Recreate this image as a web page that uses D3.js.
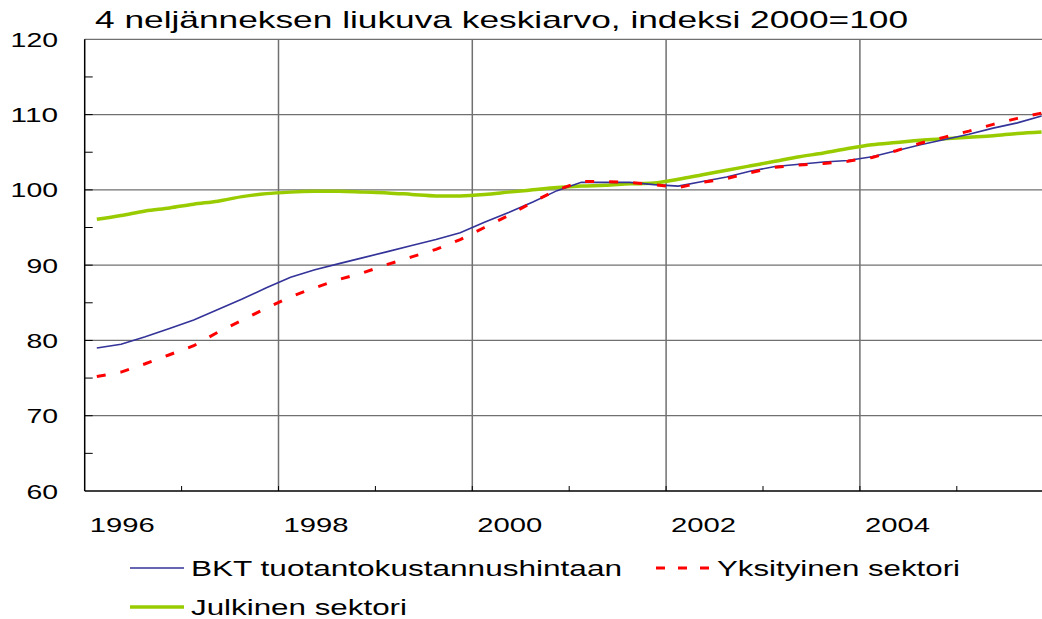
<!DOCTYPE html>
<html>
<head>
<meta charset="utf-8">
<script src="https://cdn.jsdelivr.net/npm/d3@7"></script>
<style>
  body { margin: 0; background: #fff; }
  text { font-family: Arial, "Liberation Sans", sans-serif; fill: #000; }
</style>
</head>
<body>
<svg id="chart"></svg>
<script>
// quarterly data, 4-quarter moving average, index 2000=100
var startYear = 1996;
var yearTicks = [1996, 1998, 2000, 2002, 2004];
var yTicks = [60, 70, 80, 90, 100, 110, 120];

var bkt = [79.0, 79.5, 80.5, 81.6, 82.7, 84.1, 85.5, 87.0,
           88.4, 89.4, 90.2, 91.0, 91.8, 92.6, 93.4, 94.3,
           95.7, 97.0, 98.4, 99.9, 101.0, 101.0, 101.0, 100.7,
           100.5, 101.1, 101.7, 102.5, 103.1, 103.4, 103.7, 103.9,
           104.4, 105.2, 106.0, 106.7, 107.4, 108.2, 108.9, 109.8];

var yksityinen = [75.2, 75.8, 76.9, 78.1, 79.3, 81.1, 82.7, 84.3,
                  85.8, 87.0, 88.1, 89.0, 90.1, 91.1, 92.1, 93.4,
                  95.0, 96.6, 98.4, 100.0, 101.1, 101.1, 101.0, 100.7,
                  100.3, 101.0, 101.5, 102.3, 103.0, 103.3, 103.5, 103.8,
                  104.3, 105.2, 106.2, 107.0, 107.8, 108.7, 109.5, 110.2];

var julkinen = [96.1, 96.6, 97.2, 97.6, 98.1, 98.5, 99.1, 99.5,
                99.7, 99.8, 99.8, 99.7, 99.6, 99.4, 99.2, 99.2,
                99.4, 99.7, 100.0, 100.3, 100.5, 100.6, 100.8, 100.9,
                101.4, 102.0, 102.6, 103.2, 103.8, 104.4, 104.9, 105.5,
                106.0, 106.3, 106.6, 106.8, 107.0, 107.2, 107.5, 107.7];

var seriesNames = ["BKT tuotantokustannushintaan", "Yksityinen sektori", "Julkinen sektori"];
var titleText = "4 neljänneksen liukuva keskiarvo, indeksi 2000=100";

var width = 1042, height = 619;

var svg = d3.select("#chart")
    .attr("width", width)
    .attr("height", height);

svg.append("rect")
    .attr("width", width)
    .attr("height", height)
    .attr("fill", "#fff");

//scales
var x = d3.scaleLinear()
    .domain([1996, 2006])
    .range([84.7, 1053.7]);

var y = d3.scaleLinear()
    .domain([60, 120])
    .range([491, 39.3]);

function qx(i) { return x(startYear + (i + 0.5) / 4); }

//gridlines
svg.append("g").selectAll("line")
    .data(yTicks.filter(function(d){ return d > 60; }))
    .enter().append("line")
    .attr("x1", x(1996)).attr("x2", width)
    .attr("y1", function(d){ return y(d); })
    .attr("y2", function(d){ return y(d); })
    .attr("stroke", "#707070")
    .attr("stroke-width", 1.2);

svg.append("g").selectAll("line")
    .data(yearTicks.filter(function(d){ return d > 1996; }))
    .enter().append("line")
    .attr("x1", function(d){ return x(d); })
    .attr("x2", function(d){ return x(d); })
    .attr("y1", y(120)).attr("y2", y(60))
    .attr("stroke", "#707070")
    .attr("stroke-width", 1.5);

//axes
svg.append("line")
    .attr("x1", x(1996)).attr("x2", x(1996))
    .attr("y1", y(120)).attr("y2", y(60))
    .attr("stroke", "#000").attr("stroke-width", 1.5);

svg.append("line")
    .attr("x1", x(1996)).attr("x2", width)
    .attr("y1", y(60)).attr("y2", y(60))
    .attr("stroke", "#000").attr("stroke-width", 1.5);

//minor ticks
svg.append("g").selectAll("line")
    .data(d3.range(65, 120, 5))
    .enter().append("line")
    .attr("x1", x(1996)).attr("x2", x(1996) + 8)
    .attr("y1", function(d){ return y(d); })
    .attr("y2", function(d){ return y(d); })
    .attr("stroke", "#000").attr("stroke-width", 1);

svg.append("g").selectAll("line")
    .data(d3.range(1997, 2006))
    .enter().append("line")
    .attr("x1", function(d){ return x(d); })
    .attr("x2", function(d){ return x(d); })
    .attr("y1", y(60)).attr("y2", y(60) - 5)
    .attr("stroke", "#000").attr("stroke-width", 1);

//tick labels (the original image is stretched sideways)
svg.append("g").selectAll("text")
    .data(yTicks)
    .enter().append("text")
    .attr("x", function(d){ return 58 - String(d).length * 15.8; })
    .attr("y", function(d){ return y(d) + 7.5; })
    .attr("textLength", function(d){ return String(d).length * 15.8; })
    .attr("lengthAdjust", "spacingAndGlyphs")
    .style("font-size", "21px")
    .text(function(d){ return d; });

svg.append("g").selectAll("text")
    .data(yearTicks)
    .enter().append("text")
    .attr("x", function(d){ return x(d) + 5; })
    .attr("y", 531.5)
    .attr("textLength", 65)
    .attr("lengthAdjust", "spacingAndGlyphs")
    .style("font-size", "21px")
    .text(function(d){ return d; });

//title
svg.append("text")
    .attr("x", 95)
    .attr("y", 28)
    .attr("textLength", 813)
    .attr("lengthAdjust", "spacingAndGlyphs")
    .style("font-size", "24px")
    .text(titleText);

//lines
var line = d3.line()
    .x(function(d, i){ return qx(i); })
    .y(function(d){ return y(d); });

var smooth = d3.line()
    .x(function(d, i){ return qx(i); })
    .y(function(d){ return y(d); })
    .curve(d3.curveCatmullRom.alpha(0.5));

svg.append("path")
    .datum(julkinen)
    .attr("d", smooth)
    .attr("fill", "none")
    .attr("stroke", "#99cc00")
    .attr("stroke-width", 3.5);

svg.append("path")
    .datum(bkt)
    .attr("d", line)
    .attr("fill", "none")
    .attr("stroke", "#333399")
    .attr("stroke-width", 1.6);

svg.append("path")
    .datum(yksityinen)
    .attr("d", line)
    .attr("fill", "none")
    .attr("stroke", "#ff0000")
    .attr("stroke-width", 3)
    .style("stroke-dasharray", "9, 15");

//legend
var legend = [
    {name: seriesNames[0], lx: 130, ly: 568, tw: 431, color: "#333399", sw: 1.6, dash: null},
    {name: seriesNames[1], lx: 656, ly: 568, tw: 243, color: "#ff0000", sw: 3, dash: "9, 13"},
    {name: seriesNames[2], lx: 130, ly: 607, tw: 216, color: "#99cc00", sw: 3.5, dash: null}
];

var leg = svg.append("g").selectAll("g")
    .data(legend)
    .enter().append("g")
    .attr("transform", function(d){ return "translate(" + d.lx + "," + d.ly + ")"; });

leg.append("line")
    .attr("x1", 0).attr("x2", 54)
    .attr("y1", 0).attr("y2", 0)
    .attr("stroke", function(d){ return d.color; })
    .attr("stroke-width", function(d){ return d.sw; })
    .style("stroke-dasharray", function(d){ return d.dash; });

leg.append("text")
    .attr("x", 61)
    .attr("y", 7.5)
    .attr("textLength", function(d){ return d.tw; })
    .attr("lengthAdjust", "spacingAndGlyphs")
    .style("font-size", "22px")
    .text(function(d){ return d.name; });
</script>
</body>
</html>
